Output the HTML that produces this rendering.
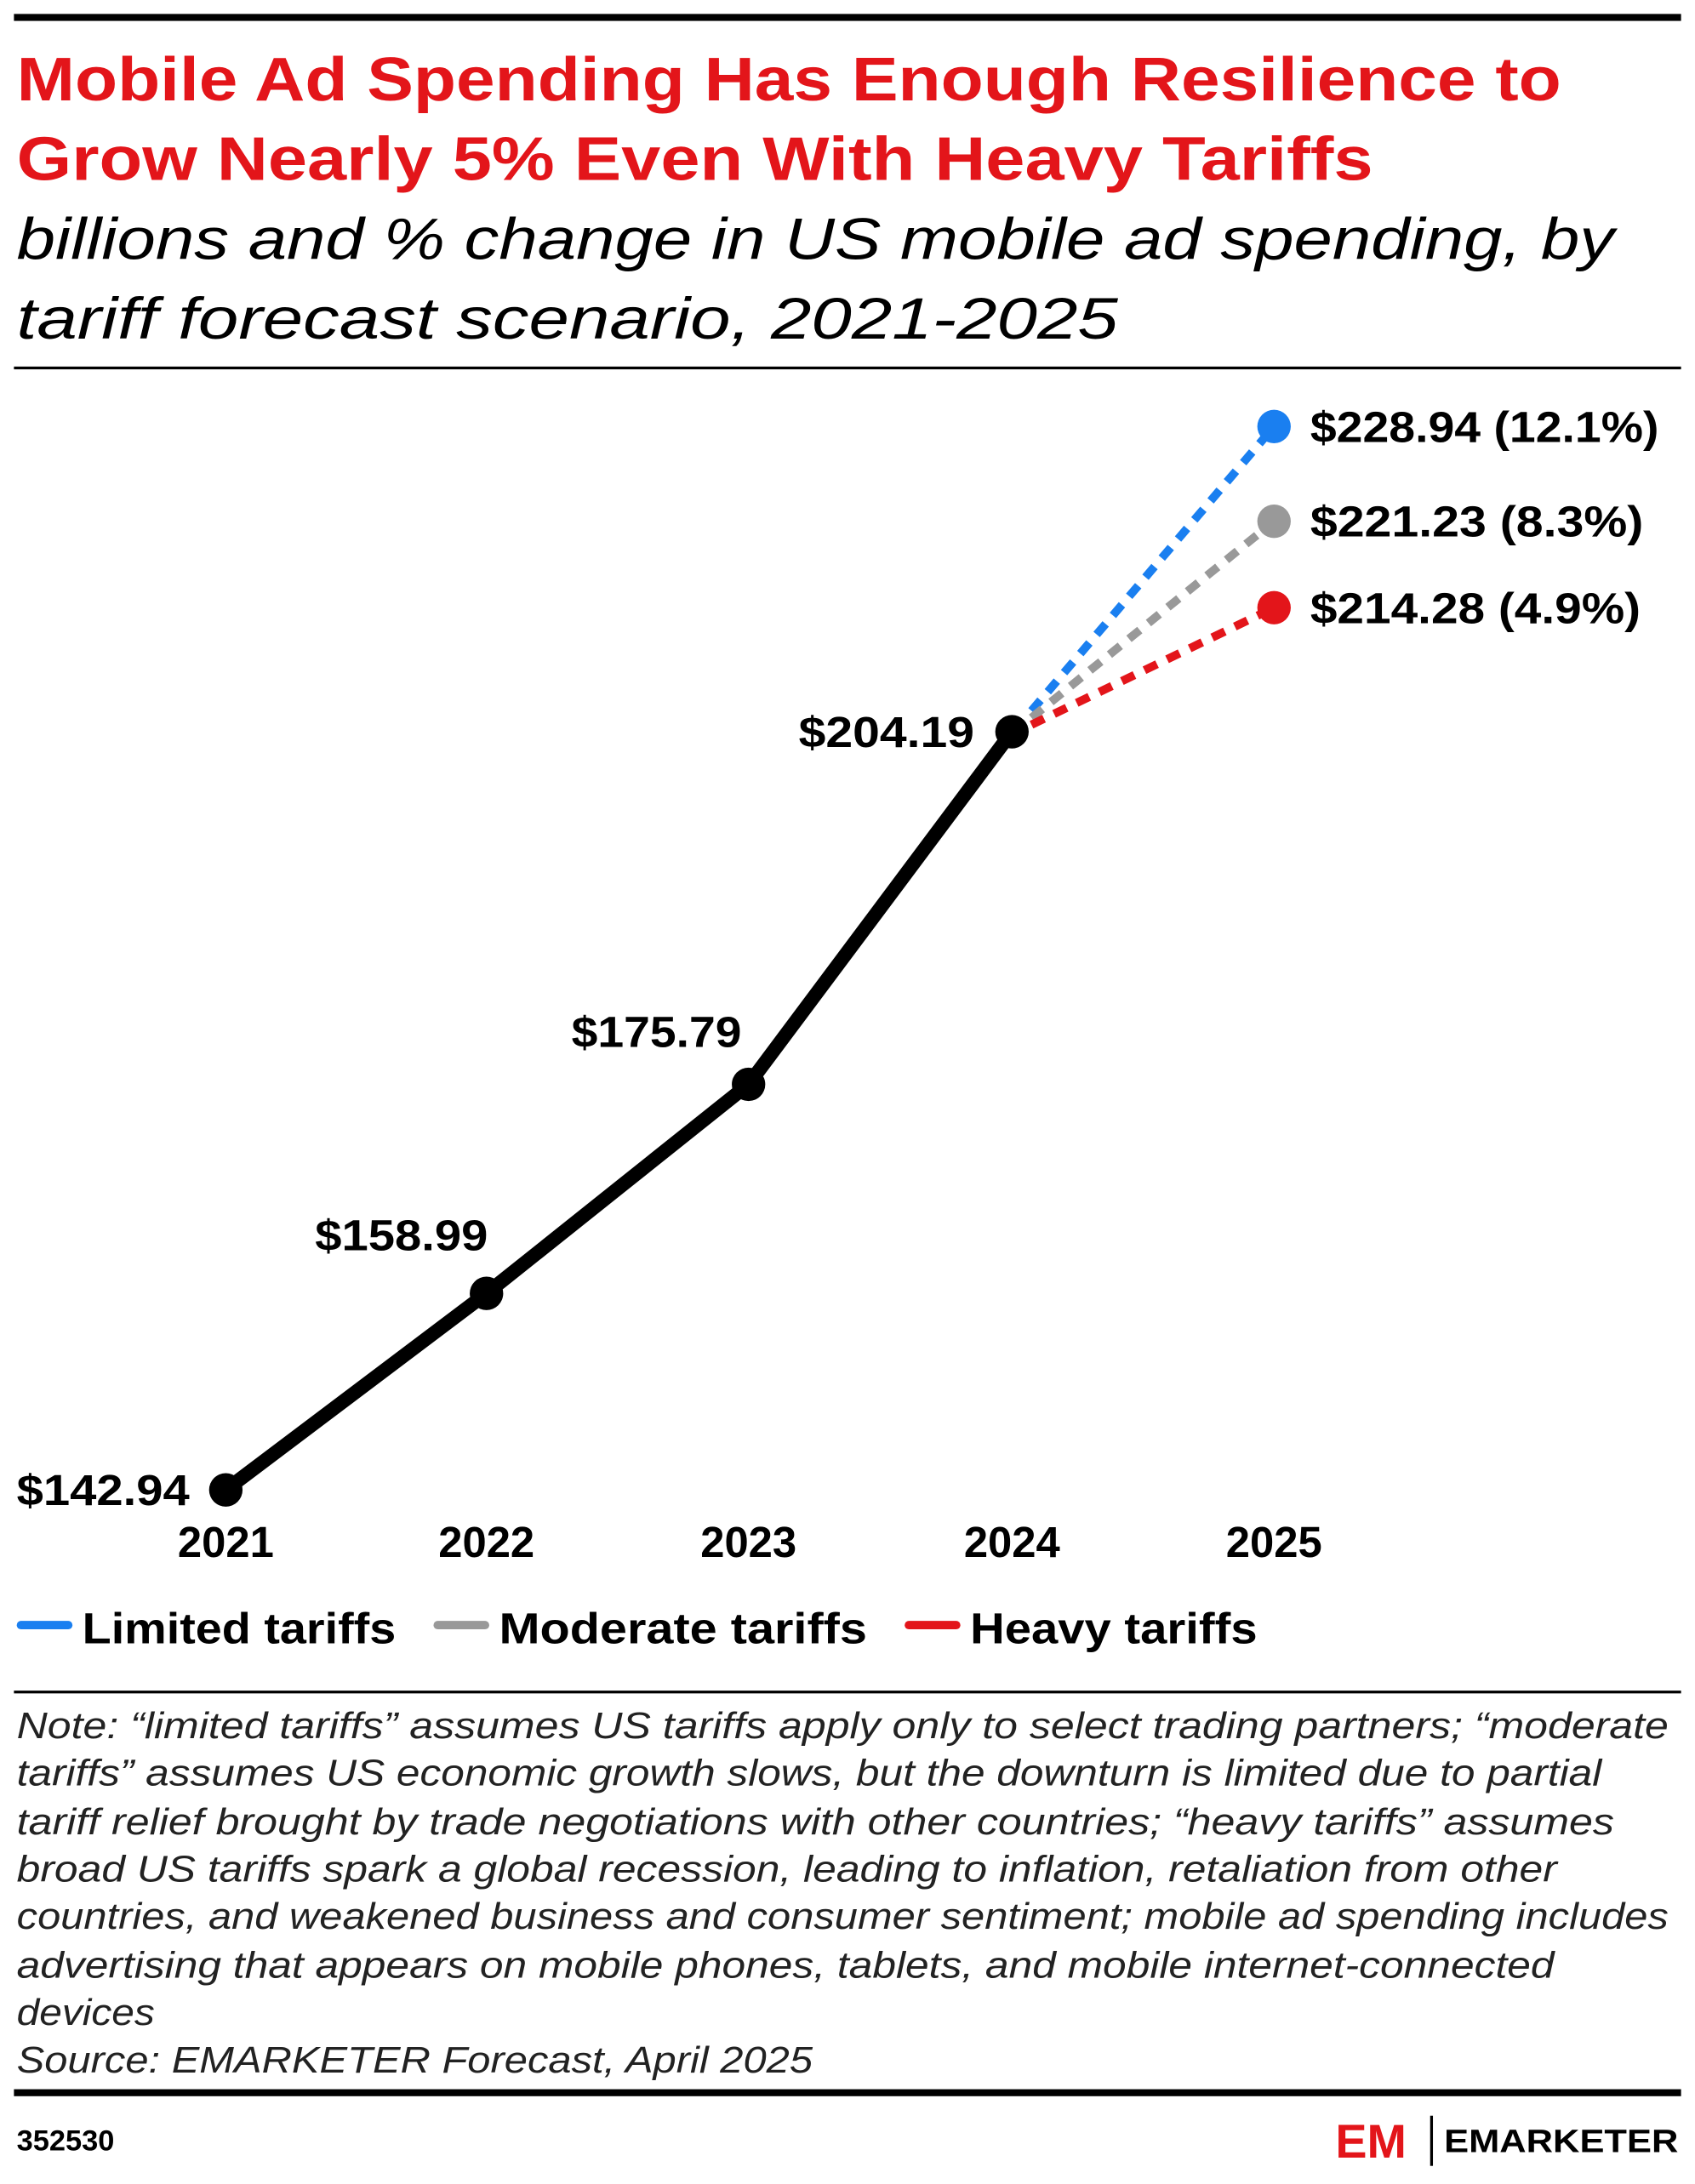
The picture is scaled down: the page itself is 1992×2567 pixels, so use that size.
<!DOCTYPE html>
<html><head><meta charset="utf-8"><style>
html,body{margin:0;padding:0;background:#fff;}
svg{display:block;}
text{font-family:"Liberation Sans",sans-serif;}
</style></head><body>
<svg width="1992" height="2567" viewBox="0 0 1216 1567" xmlns="http://www.w3.org/2000/svg">
<rect x="10" y="10" width="1196" height="5" fill="#000"/>
<g font-weight="bold" fill="#e3151a" font-size="44">
<text x="12" y="72" textLength="1108" lengthAdjust="spacingAndGlyphs">Mobile Ad Spending Has Enough Resilience to</text>
<text x="12" y="129" textLength="973" lengthAdjust="spacingAndGlyphs">Grow Nearly 5% Even With Heavy Tariffs</text>
</g>
<g font-style="italic" fill="#000" font-size="42">
<text x="12" y="186" textLength="1146" lengthAdjust="spacingAndGlyphs">billions and % change in US mobile ad spending, by</text>
<text x="12" y="243" textLength="790" lengthAdjust="spacingAndGlyphs">tariff forecast scenario, 2021-2025</text>
</g>
<rect x="10" y="263" width="1196" height="2" fill="#000"/>
<g stroke-width="6" stroke-dasharray="10,8" fill="none">
<line x1="740" y1="510" x2="914" y2="306" stroke="#1a7ff0"/>
<line x1="740" y1="515" x2="914" y2="374" stroke="#999"/>
<line x1="740" y1="520" x2="914" y2="436" stroke="#e3151a"/>
</g>
<polyline points="162,1069 349,928 537,778 726,525" fill="none" stroke="#000" stroke-width="10" stroke-linejoin="round"/>
<g fill="#000"><circle cx="162" cy="1069" r="12"/><circle cx="349" cy="928" r="12"/><circle cx="537" cy="778" r="12"/><circle cx="726" cy="525" r="12"/></g>
<circle cx="914" cy="306" r="12" fill="#1a7ff0"/>
<circle cx="914" cy="374" r="12" fill="#999"/>
<circle cx="914" cy="436" r="12" fill="#e3151a"/>
<g font-weight="bold" font-size="31" fill="#000">
<text x="12" y="1080" textLength="124" lengthAdjust="spacingAndGlyphs">$142.94</text>
<text x="226" y="897" textLength="124" lengthAdjust="spacingAndGlyphs">$158.99</text>
<text x="410" y="751" textLength="122" lengthAdjust="spacingAndGlyphs">$175.79</text>
<text x="573" y="536" textLength="126" lengthAdjust="spacingAndGlyphs">$204.19</text>
<text x="940" y="317" textLength="250" lengthAdjust="spacingAndGlyphs">$228.94 (12.1%)</text>
<text x="940" y="385" textLength="239" lengthAdjust="spacingAndGlyphs">$221.23 (8.3%)</text>
<text x="940" y="447" textLength="237" lengthAdjust="spacingAndGlyphs">$214.28 (4.9%)</text>
</g>
<g font-weight="bold" font-size="31" fill="#000" text-anchor="middle">
<text x="162" y="1117">2021</text><text x="349" y="1117">2022</text><text x="537" y="1117">2023</text><text x="726" y="1117">2024</text><text x="914" y="1117">2025</text>
</g>
<g stroke-width="6" stroke-linecap="round">
<line x1="15" y1="1166" x2="49" y2="1166" stroke="#1a7ff0"/>
<line x1="314" y1="1166" x2="348" y2="1166" stroke="#999"/>
<line x1="652" y1="1166" x2="686" y2="1166" stroke="#e3151a"/>
</g>
<g font-weight="bold" font-size="31" fill="#000">
<text x="59" y="1179" textLength="225" lengthAdjust="spacingAndGlyphs">Limited tariffs</text>
<text x="358" y="1179" textLength="264" lengthAdjust="spacingAndGlyphs">Moderate tariffs</text>
<text x="696" y="1179" textLength="206" lengthAdjust="spacingAndGlyphs">Heavy tariffs</text>
</g>
<rect x="10" y="1213" width="1196" height="2" fill="#000"/>
<g font-style="italic" font-size="26.5" fill="#222">
<text x="12" y="1247" textLength="1185" lengthAdjust="spacingAndGlyphs">Note: “limited tariffs” assumes US tariffs apply only to select trading partners; “moderate</text>
<text x="12" y="1281" textLength="1137" lengthAdjust="spacingAndGlyphs">tariffs” assumes US economic growth slows, but the downturn is limited due to partial</text>
<text x="12" y="1316" textLength="1146" lengthAdjust="spacingAndGlyphs">tariff relief brought by trade negotiations with other countries; “heavy tariffs” assumes</text>
<text x="12" y="1350" textLength="1105" lengthAdjust="spacingAndGlyphs">broad US tariffs spark a global recession, leading to inflation, retaliation from other</text>
<text x="12" y="1384" textLength="1185" lengthAdjust="spacingAndGlyphs">countries, and weakened business and consumer sentiment; mobile ad spending includes</text>
<text x="12" y="1419" textLength="1103" lengthAdjust="spacingAndGlyphs">advertising that appears on mobile phones, tablets, and mobile internet-connected</text>
<text x="12" y="1453" textLength="99" lengthAdjust="spacingAndGlyphs">devices</text>
<text x="12" y="1487" textLength="571" lengthAdjust="spacingAndGlyphs">Source: EMARKETER Forecast, April 2025</text>
</g>
<rect x="10" y="1499" width="1196" height="5" fill="#000"/>
<text x="12" y="1543" font-weight="bold" font-size="21" fill="#000">352530</text>
<text x="958" y="1548" font-weight="bold" font-size="34" fill="#e3151a">EM</text>
<rect x="1026" y="1518" width="2" height="36" fill="#000"/>
<text x="1036" y="1544" font-weight="bold" font-size="23" fill="#000" textLength="168" lengthAdjust="spacingAndGlyphs">EMARKETER</text>
</svg>
</body></html>
